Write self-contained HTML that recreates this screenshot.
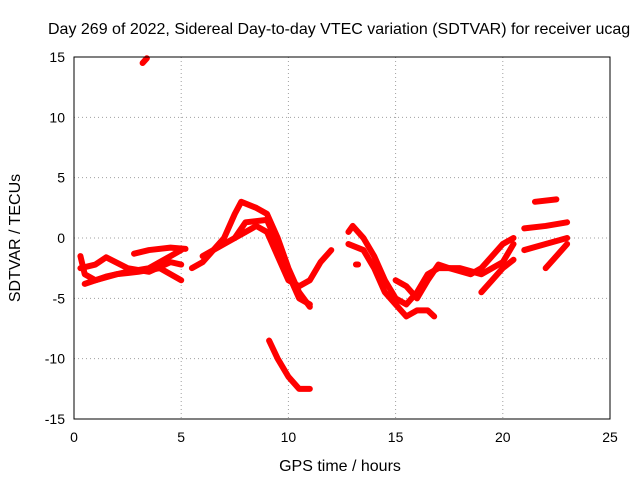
<!DOCTYPE html>
<html><head><meta charset="utf-8"><style>
body{margin:0;background:#fff;}
svg text{font-family:"Liberation Sans",sans-serif;font-size:14px;fill:#000;}
svg text.big{font-size:16px;}
</style></head><body>
<svg id="c" width="640" height="480" viewBox="0 0 640 480"></svg>
<script>
const xTicks=[0,5,10,15,20,25];
const yTicks=[-15,-10,-5,0,5,10,15];
const tracks=[
 [[0.3,-1.5],[0.5,-3],[1,-3.5],[2,-3],[3,-2.8],[4,-2.5],[5,-3.5]],
 [[0.3,-2.5],[1,-2.2],[1.5,-1.6],[2.5,-2.5],[3.5,-2.8],[4.5,-2],[5,-2.2]],
 [[0.5,-3.8],[1.5,-3.2],[2.5,-2.8],[3.5,-2.5],[4.5,-1.5],[5,-1]],
 [[2.8,-1.3],[3.5,-1],[4.5,-0.8],[5.2,-0.9]],
 [[3.2,14.5],[3.4,14.9]],
 [[5.5,-2.5],[6,-2],[6.5,-1],[7,0],[7.5,2],[7.8,3],[8.5,2.5],[9,2],[9.5,0],[10,-2.5],[10.5,-4.5],[11,-5.7]],
 [[6,-1.5],[7,-0.5],[8,0.5],[8.5,1],[9,0.5],[9.5,-1.5],[10,-3.5],[10.5,-4],[11,-3.5],[11.5,-2],[12,-1]],
 [[7.5,0],[8,1.3],[9,1.5],[9.5,-0.5],[10,-3],[10.5,-5],[11,-5.5]],
 [[9.1,-8.5],[9.5,-10],[10,-11.5],[10.5,-12.5],[11,-12.5]],
 [[12.8,0.5],[13,1],[13.5,0],[14,-1.5],[14.5,-3.5],[15,-5],[15.5,-5.5],[16,-4.5],[16.5,-3],[17,-2.5],[18,-2.5],[19,-3],[20,-2],[20.5,-0.5]],
 [[12.8,-0.5],[13.5,-1],[14,-2.5],[14.5,-4.5],[15,-5.5],[15.5,-6.5],[16,-6],[16.5,-6],[16.8,-6.5]],
 [[15,-3.5],[15.5,-4],[16,-5],[16.5,-3.5],[17,-2.2],[17.5,-2.5],[18.5,-3],[19,-2.5],[19.5,-1.5],[20,-0.5],[20.5,0]],
 [[13.15,-2.2],[13.25,-2.2]],
 [[19,-4.5],[19.5,-3.5],[20,-2.5],[20.5,-1.8]],
 [[21,-1],[22,-0.5],[23,0]],
 [[21,0.8],[22,1],[23,1.3]],
 [[21.5,3],[22.5,3.2]],
 [[22,-2.5],[22.5,-1.5],[23,-0.5]]
];
const L=74,R=610,T=57,B=419,xMin=0,xMax=25,yMin=-15,yMax=15;
const sx=v=>L+(v-xMin)/(xMax-xMin)*(R-L);
const sy=v=>B-(v-yMin)/(yMax-yMin)*(B-T);
const svg=document.getElementById('c');const NS='http://www.w3.org/2000/svg';
function mk(t,a,p){const e=document.createElementNS(NS,t);for(const k in a)e.setAttribute(k,a[k]);(p||svg).appendChild(e);return e;}
xTicks.forEach(v=>{const g=mk('line',{x1:sx(v),x2:sx(v),y1:T,y2:B,stroke:'#a0a0a0','stroke-dasharray':'1,3'});

const t=mk('text',{x:sx(v),y:B+23,'text-anchor':'middle'});t.textContent=v;
});
yTicks.forEach(v=>{const g=mk('line',{x1:L,x2:R,y1:sy(v),y2:sy(v),stroke:'#a0a0a0','stroke-dasharray':'1,3'});

const t=mk('text',{x:L-9,y:sy(v)+5,'text-anchor':'end'});t.textContent=v;
});
tracks.forEach(tr=>{const p=mk('polyline',{points:tr.map(d=>sx(d[0])+','+sy(d[1])).join(' '),fill:'none',stroke:'#ff0000','stroke-width':6,'stroke-linejoin':'round','stroke-linecap':'round'});
});
const fr=mk('rect',{x:L,y:T,width:R-L,height:B-T,fill:'none',stroke:'#000'});

</script>
<svg width="640" height="480" style="position:absolute;left:0;top:0">
<text class="big" x="48" y="34">Day 269 of 2022, Sidereal Day-to-day VTEC variation (SDTVAR) for receiver ucag</text>
<text class="big" x="340" y="471" text-anchor="middle">GPS time / hours</text>
<text class="big" transform="translate(20,238) rotate(-90)" text-anchor="middle">SDTVAR / TECUs</text>
</svg>
</body></html>
